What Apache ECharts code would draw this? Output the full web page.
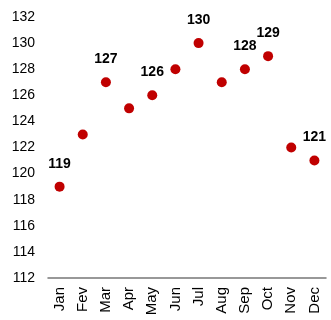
<!DOCTYPE html>
<html>
<head>
<meta charset="utf-8">
<script src="https://cdn.jsdelivr.net/npm/echarts@6/dist/echarts.min.js"></script>
<style>
  html, body { margin: 0; padding: 0; background: #fff; }
  #chart { width: 331px; height: 320px; }
</style>
</head>
<body>
<div id="chart"></div>
<script>
// Monthly values
const months = ['Jan', 'Fev', 'Mar', 'Apr', 'May', 'Jun', 'Jul', 'Aug', 'Sep', 'Oct', 'Nov', 'Dec'];
const values = [119, 123, 127, 125, 126, 128, 130, 127, 128, 129, 122, 121];
// Months whose value is printed above the dot
const labelledMonths = ['Jan', 'Mar', 'May', 'Jul', 'Sep', 'Oct', 'Dec'];

const font = 'Arial, "Liberation Sans", sans-serif';

const chart = echarts.init(document.getElementById('chart'), null, { renderer: 'canvas' });
chart.setOption({
  animation: false,
  grid: { left: 48, right: 5, top: 17, bottom: 42, containLabel: false },
  xAxis: {
    type: 'category',
    data: months,
    boundaryGap: true,
    axisLine: { lineStyle: { color: '#777', width: 1.5 } },
    axisTick: { alignWithLabel: true, length: 5, lineStyle: { color: '#777' } },
    axisLabel: { rotate: 90, margin: 9, fontSize: 15, color: '#000', fontFamily: font }
  },
  yAxis: {
    type: 'value',
    min: 112,
    max: 132,
    interval: 2,
    axisLine: { show: false },
    axisTick: { show: false },
    splitLine: { show: false },
    axisLabel: { margin: 13, fontSize: 14, color: '#000', fontFamily: font }
  },
  series: [{
    type: 'scatter',
    data: values.map((v, i) => ({
      value: v,
      label: { show: labelledMonths.includes(months[i]) }
    })),
    symbol: 'circle',
    symbolSize: 10,
    itemStyle: { color: '#c00000', opacity: 1 },
    label: {
      position: 'top',
      distance: 11,
      fontSize: 14,
      fontWeight: 'bold',
      color: '#000',
      opacity: 1,
      fontFamily: font
    }
  }]
});
</script>
</body>
</html>
